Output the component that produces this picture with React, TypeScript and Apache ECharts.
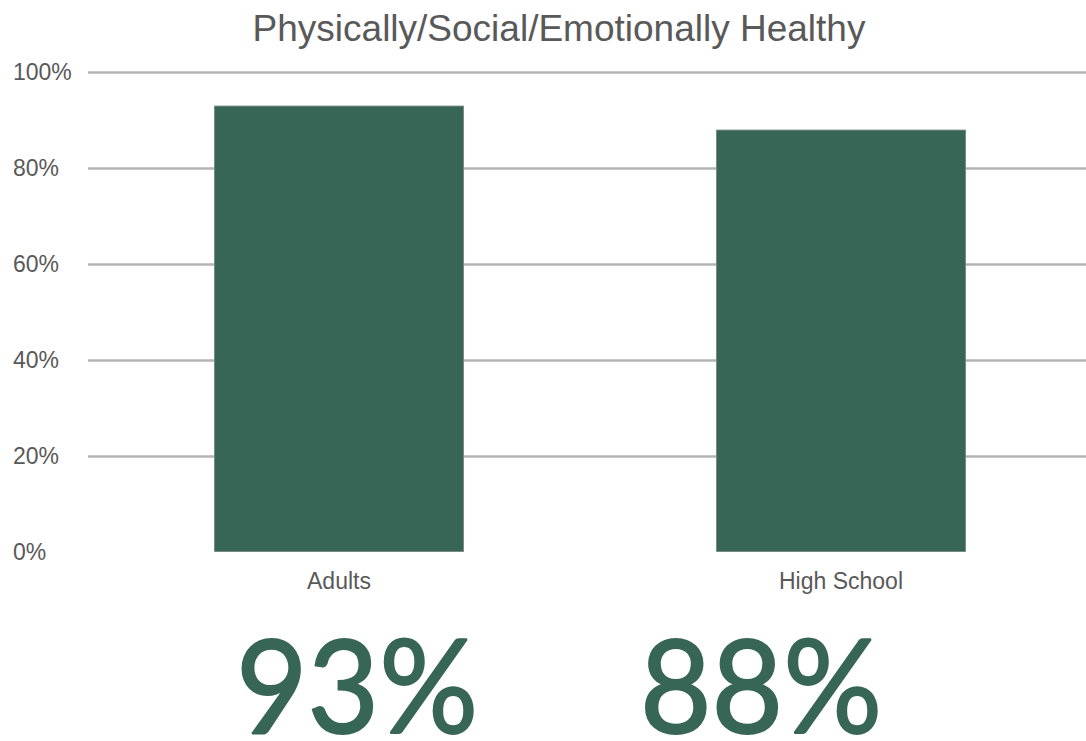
import React, { useEffect, useRef } from "react";
import * as echarts from "echarts";

const categories = ["Adults", "High School"];
const values = [93, 88];
const yTicks = [0, 20, 40, 60, 80, 100];
const bigLabelX = [357, 761];

export default function App() {
  const ref = useRef<HTMLDivElement>(null);
  useEffect(() => {
    if (!ref.current) return;
    const chart = echarts.init(ref.current, null, { renderer: "svg" });
    const green = "#376656";
    chart.setOption({
      animation: false,
      backgroundColor: "#ffffff",
      title: {
        text: "Physically/Social/Emotionally Healthy",
        left: 554,
        textAlign: "center",
        top: 5,
        textStyle: { fontFamily: "Liberation Sans", fontSize: 37, fontWeight: "normal", color: "#595959" },
      },
      grid: { left: 88, width: 1004, top: 72, height: 480 },
      xAxis: {
        type: "category",
        data: categories,
        axisLine: { show: false },
        axisTick: { show: false },
        axisLabel: { fontFamily: "Liberation Sans", fontSize: 23, color: "#595959", margin: 17 },
      },
      yAxis: {
        type: "value",
        min: yTicks[0],
        max: yTicks[yTicks.length - 1],
        interval: 20,
        axisLine: { show: false },
        axisTick: { show: false },
        axisLabel: {
          fontFamily: "Liberation Sans",
          fontSize: 23,
          color: "#595959",
          margin: 75,
          align: "left",
          formatter: (v: number) => v + "%",
        },
        splitLine: {
          show: true,
          lineStyle: {
            color: "#b3b3b3",
            width: 2.5,
          },
          showMinLine: false,
        },
      },
      series: [
        {
          type: "bar",
          data: values,
          barWidth: 250,
          itemStyle: { color: green, borderColor: "#7a8a84", borderWidth: 1 },
        },
      ],
      graphic: values.map((v, i) => ({
        type: "text",
        x: bigLabelX[i],
        y: 633,
        scaleX: 0.95,
        style: {
          text: v + "%",
          fontFamily: "Lato",
          fontSize: 130,
          lineHeight: 100,
          fill: green,
          stroke: green,
          lineWidth: 2,
          textAlign: "center",
          textVerticalAlign: "top",
        },
      })),
    });
    return () => chart.dispose();
  }, []);
  return (
    <div style={{ position: "absolute", left: 0, top: 0, width: 1086, height: 741, overflow: "hidden" }}>
      <div ref={ref} style={{ position: "absolute", left: 0, top: 0, width: 1094, height: 741 }} />
    </div>
  );
}
